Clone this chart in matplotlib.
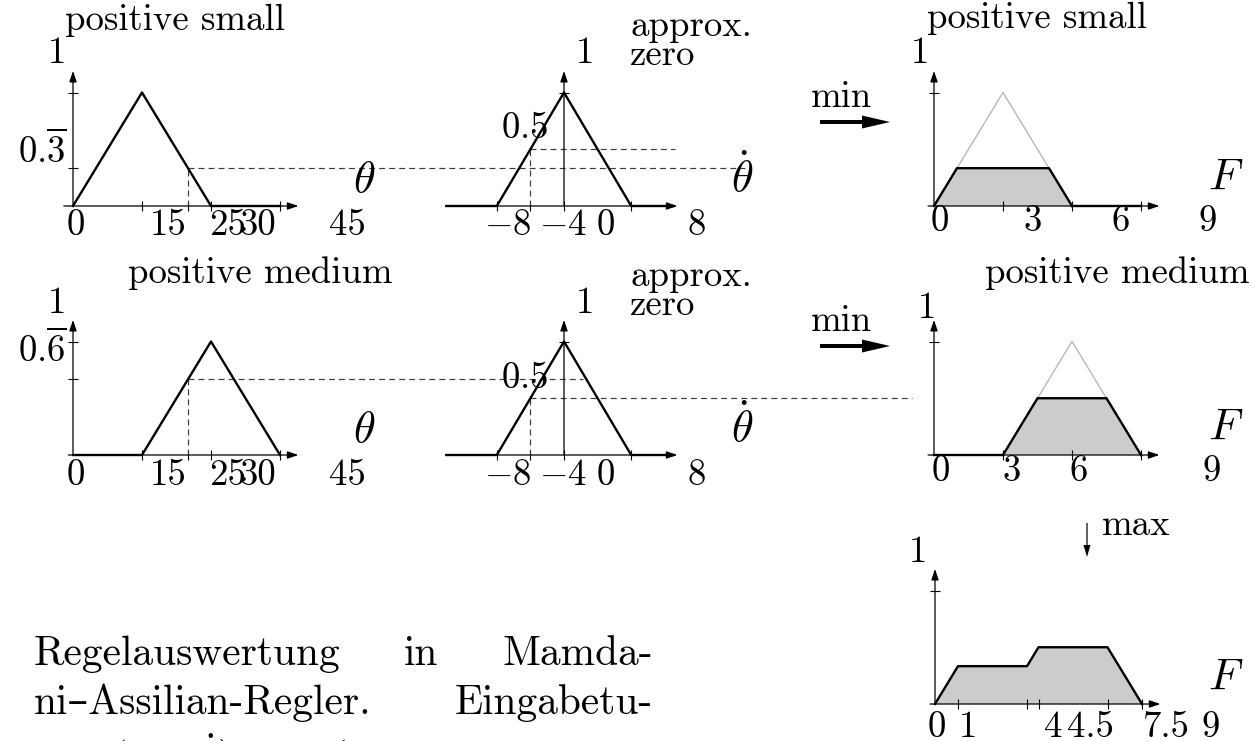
import matplotlib
matplotlib.use('Agg')
import matplotlib.pyplot as plt
import matplotlib.transforms as mtransforms
from matplotlib.patches import FancyArrow

# Computer Modern for text and math.
plt.rcParams['mathtext.fontset'] = 'cm'
plt.rcParams['font.family'] = ['cmr10', 'DejaVu Serif']
plt.rcParams['axes.formatter.use_mathtext'] = True

W, H = 1260, 741
SY = 113.5  # pixels per unit of membership

# Membership functions of the inputs and the output.
theta_small_x = [0, 15, 30, 45]
theta_small_mu = [0, 1, 0, 0]
theta_medium_x = [0, 15, 30, 45]
theta_medium_mu = [0, 0, 1, 0]
dtheta_zero_x = [-14, -8, 0, 8, 13]
dtheta_zero_mu = [0, 0, 1, 0, 0]
F_small_x = [0, 3, 6, 9]
F_small_mu = [0, 1, 0, 0]
F_medium_x = [0, 3, 6, 9]
F_medium_mu = [0, 0, 1, 0]

# Crisp inputs and the degrees they give.
theta_in = 25
dtheta_in = -4
mu_theta_small = 1 / 3
mu_theta_medium = 2 / 3
mu_dtheta_zero = 0.5

# Consequents cut at the rule strengths, and their maximum.
F_cut_small_x = [0, 1, 5, 6]
F_cut_small_mu = [0, 1 / 3, 1 / 3, 0]
F_cut_medium_x = [3, 4.5, 7.5, 9]
F_cut_medium_mu = [0, 0.5, 0.5, 0]
F_out_x = [0, 1, 4, 4.5, 7.5, 9]
F_out_mu = [0, 1 / 3, 1 / 3, 0.5, 0.5, 0]

# Ticks.
theta_ticks = [15, 25, 30, 45]
dtheta_ticks = [-8, -4, 0, 8]
F_ticks = [3, 6, 9]
F_out_ticks = [1, 4, 4.5, 7.5, 9]

# Tick label texts.
theta_labels = ['0', '15', '25', '30', '45']
dtheta_labels = ['$-8$', '$-4$', '0', '8']
F_labels = ['0', '3', '6', '9']
F_out_labels = ['0', '1', '4', '4.5', '7.5', '9']

fig = plt.figure(figsize=(W / 100, H / 100), dpi=100)
pix = mtransforms.Affine2D().scale(1 / W, 1 / H) + fig.transFigure

BLACK = 'black'
DASH = '#3a3a3a'


def text(x, y, s, size=26.5, ha='center'):
    # x, y in pixels from the top left corner, y is the baseline.
    fig.text(x / W, 1 - y / H, s, fontsize=size, ha=ha, va='baseline')


def panel(ox, oy, sx, x0, x1):
    y0, y1 = -0.15, 1.3
    rect = [(ox + x0 * sx) / W, 1 - (oy - y0 * SY) / H,
            (x1 - x0) * sx / W, (y1 - y0) * SY / H]
    ax = fig.add_axes(rect)
    ax.set_xlim(x0, x1)
    ax.set_ylim(y0, y1)
    ax.axis('off')
    ax.ox, ax.sx = ox, sx
    return ax


def reach(ax, px):
    # pixel column -> x value of this panel
    return (px - ax.ox) / ax.sx


def frame(ax, xa, xb, yticks, xticks):
    arrow = dict(arrowstyle='-|>,head_length=0.65,head_width=0.22',
                 lw=0.9, color=BLACK, shrinkA=0, shrinkB=0)
    ax.annotate('', xy=(xb, 0), xytext=(xa, 0), arrowprops=arrow,
                annotation_clip=False)
    ax.annotate('', xy=(0, 1.19), xytext=(0, 0), arrowprops=arrow,
                annotation_clip=False)
    ax.vlines(xticks, -5 / SY, 5 / SY, color=BLACK, lw=0.8)
    ax.hlines(yticks, -5 / ax.sx, 5 / ax.sx, color=BLACK, lw=0.8)


def guide(ax, x, mu, px_end):
    ax.plot([x, x], [0, mu], color=DASH, lw=0.85, dashes=(5, 3.5),
            clip_on=False)
    ax.plot([x, reach(ax, px_end)], [mu, mu], color=DASH, lw=0.85,
            dashes=(5, 3.5), clip_on=False)


def mf(ax, x, mu):
    ax.plot(x, mu, color=BLACK, lw=1.7, zorder=4, clip_on=False)


def cut(ax, full_x, full_mu, x, mu):
    ax.fill(x, mu, color='#cccccc', lw=0, zorder=1)
    ax.plot(full_x, full_mu, color='#b8b8b8', lw=1.0, zorder=3)
    mf(ax, x, mu)


# ---- row 1: theta positive small, dtheta approx zero -> F positive small
ax = panel(73, 206, 4.6, -2, 50)
frame(ax, -2, 49, [1, mu_theta_small], theta_ticks)
mf(ax, theta_small_x, theta_small_mu)
guide(ax, theta_in, mu_theta_small, 745)

ax = panel(564, 206, 8.4, -15, 15)
frame(ax, -14.1, 13.5, [1], dtheta_ticks)
mf(ax, dtheta_zero_x, dtheta_zero_mu)
guide(ax, dtheta_in, mu_dtheta_zero, 675)

ax = panel(934, 206, 23, -0.5, 10.5)
frame(ax, -0.26, 9.8, [1], F_ticks)
cut(ax, F_small_x[:3], F_small_mu[:3], F_cut_small_x, F_cut_small_mu)
mf(ax, F_small_x[2:], F_small_mu[2:])

# ---- row 2: theta positive medium, dtheta approx zero -> F positive medium
ax = panel(73, 455, 4.6, -2, 50)
frame(ax, -1, 49, [1, mu_theta_medium], theta_ticks)
mf(ax, theta_medium_x, theta_medium_mu)
guide(ax, theta_in, mu_theta_medium, 583)

ax = panel(564, 455, 8.4, -15, 15)
frame(ax, -14.1, 13.5, [1], dtheta_ticks)
mf(ax, dtheta_zero_x, dtheta_zero_mu)
guide(ax, dtheta_in, mu_dtheta_zero, 912)

ax = panel(934, 455, 23, -0.5, 10.5)
frame(ax, -0.26, 9.8, [1], F_ticks)
cut(ax, F_medium_x[1:], F_medium_mu[1:], F_cut_medium_x, F_cut_medium_mu)
mf(ax, F_medium_x[:2], F_medium_mu[:2])

# ---- row 3: maximum of both cut consequents
ax = panel(935, 704, 23, -0.5, 10.5)
frame(ax, -0.22, 9.8, [1], F_out_ticks)
ax.fill(F_out_x, F_out_mu, color='#cccccc', lw=0, zorder=1)
mf(ax, F_out_x, F_out_mu)

# arrows between the stages
for y in (122, 346):
    fig.add_artist(FancyArrow(820, H - y, 70, 0, width=4, head_width=13,
                              head_length=28, length_includes_head=True,
                              color=BLACK, lw=0, transform=pix))
    text(841, y - 15, 'min')
fig.add_artist(FancyArrow(1087, H - 523, 0, -34, width=1.2, head_width=7,
                          head_length=12, length_includes_head=True,
                          color=BLACK, lw=0, transform=pix))
text(1102, 535, 'max', ha='left')

# labels of the theta panels
for base in (0, 250):
    for s, x in zip(theta_labels, [76, 168, 228, 258, 347]):
        text(x, 235 + base, s)
    for s, x in zip(dtheta_labels, [508, 563, 606, 697]):
        text(x, 235 + base, s)
    text(57, 63 + base, '1')
    text(585, 63 + base, '1')
    text(630, 36 + base, 'approx.', ha='left')
    text(630, 65 + base, 'zero', ha='left')
    text(525, 138 + base, '$0.5$')
    text(364, 192 + base, r'$\theta$', size=32)
    text(742, 192 + base, r'$\dot{\theta}$', size=32)

text(65, 30, 'positive small', ha='left')
text(128, 283, 'positive medium', ha='left')
text(42, 163, r'0.$\overline{3}$')
text(42, 362, r'0.$\overline{6}$')

# labels of the F panels
text(927, 28, 'positive small', ha='left')
text(985, 283, 'positive medium', ha='left')
text(920, 63, '1')
text(927, 318, '1')
text(918, 562, '1')
for y in (190, 440, 690):
    text(1226, y, '$F$', size=32)
for s, x in zip(F_labels, [940, 1033, 1121, 1208]):
    text(x, 231, s)
for s, x in zip(F_labels, [941, 1012, 1079, 1212]):
    text(x, 481, s)
for s, x in zip(F_out_labels, [937, 968, 1053, 1090, 1166, 1211]):
    text(x, 737, s)

# caption, justified by hand
cap = 29.8
text(34, 665, 'Regelauswertung', size=cap, ha='left')
text(421, 665, 'in', size=cap)
text(653, 665, 'Mamda-', size=cap, ha='right')
text(34, 714, 'ni\u2013Assilian-Regler.', size=cap, ha='left')
text(653, 714, 'Eingabetu-', size=cap, ha='right')
text(34, 771, 'pel', size=cap, ha='left')
text(110, 771, r'$(\theta,$', size=cap, ha='left')
text(232, 771, r'$\dot{\theta})$', size=cap, ha='right')
text(290, 771, '$=$', size=cap)
text(330, 771, '$(25,$', size=cap, ha='left')

fig.savefig('out.png', dpi=100)
